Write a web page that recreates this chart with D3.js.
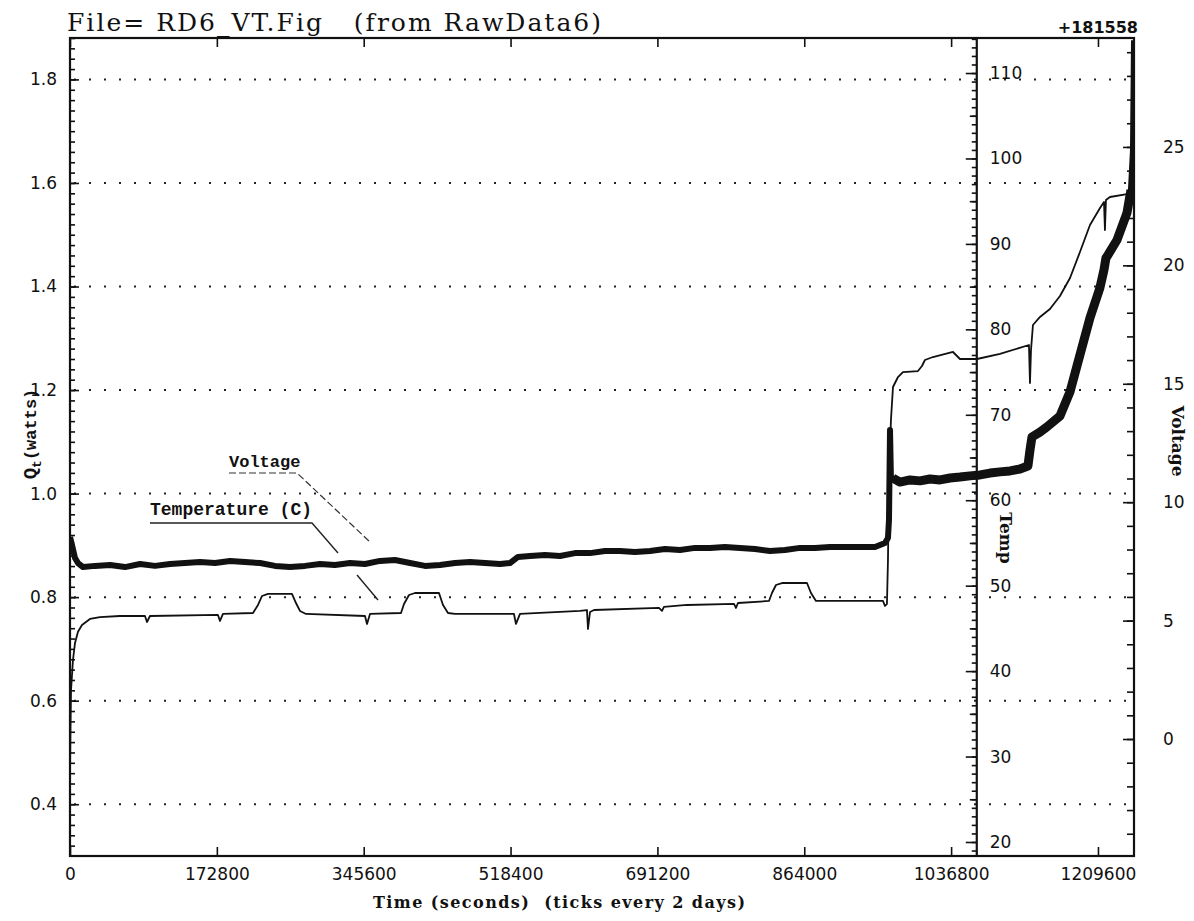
<!DOCTYPE html>
<html>
<head>
<meta charset="utf-8">
<script src="https://cdn.jsdelivr.net/npm/d3@7"></script>
<style>
  body { margin: 0; background: #fff; }
  svg text { fill: #111; }
</style>
</head>
<body>
<div id="chart"></div>
<script>
// Temperature (C) vs time (s)
const temperature = [
  [0, 27.8], [600, 33.5], [1200, 37.8], [3500, 41.3], [5900, 43.3], [9400, 44.6], [14100, 45.4],
  [23500, 46.1], [35300, 46.33], [58800, 46.45], [88200, 46.45], [90600, 45.75], [94100, 46.45],
  [174100, 46.57], [176500, 45.87], [180000, 46.69], [215300, 46.8], [221200, 47.74],
  [225900, 48.79], [233000, 49.03], [261200, 49.03], [265900, 47.97], [270600, 47.04],
  [277700, 46.69], [347100, 46.45], [349500, 45.52], [353000, 46.69], [389500, 46.8],
  [393000, 47.86], [398900, 48.91], [405900, 49.14], [434200, 49.14], [438900, 47.74],
  [444800, 46.8], [453000, 46.69], [522400, 46.69], [524800, 45.52], [529500, 46.69],
  [600100, 47.04], [608300, 47.15], [609500, 44.93], [611900, 46.92], [616600, 47.15],
  [693000, 47.39], [696600, 47.04], [698900, 47.51], [726000, 47.74], [781300, 47.86],
  [783600, 47.39], [786000, 47.97], [822500, 48.21], [826000, 49.14], [830700, 50.08],
  [837800, 50.31], [867200, 50.31], [871900, 49.14], [877800, 48.21], [956600, 48.21],
  [959000, 47.62], [961300, 47.86], [962500, 53.0], [963700, 62.37], [966000, 69.39],
  [968400, 73.25], [974300, 74.42], [980100, 75.0], [997800, 75.12], [1002500, 75.71],
  [1006000, 76.41], [1015400, 76.76], [1039000, 77.35], [1043700, 76.88], [1047200, 76.53],
  [1067200, 76.53], [1094300, 77.12], [1128400, 78.17], [1129600, 73.72], [1130800, 77.58],
  [1133100, 80.51], [1141400, 81.45], [1153100, 82.38], [1164900, 83.9], [1176700, 86.01],
  [1188400, 89.05], [1200200, 92.21], [1212000, 94.2], [1216700, 94.91], [1217800, 91.63],
  [1219000, 95.14], [1223700, 95.49], [1243700, 95.84], [1252000, 96.54]
];

// Voltage vs time (s), centre of the noisy band
const voltage = [
  [0, 8.53], [2400, 8.19], [5900, 7.64], [9400, 7.43], [15300, 7.26], [29400, 7.31],
  [47100, 7.35], [64700, 7.26], [82400, 7.39], [100000, 7.31], [117700, 7.39], [135300, 7.43],
  [153000, 7.47], [170600, 7.43], [188300, 7.52], [205900, 7.47], [223600, 7.43], [241200, 7.31],
  [258900, 7.26], [276500, 7.31], [294200, 7.39], [311800, 7.35], [329500, 7.43], [347100, 7.39],
  [364800, 7.52], [382400, 7.56], [400100, 7.43], [417700, 7.31], [435400, 7.35], [453000, 7.43],
  [470700, 7.47], [488300, 7.43], [506000, 7.39], [517700, 7.43], [527100, 7.69], [541300, 7.73],
  [558900, 7.77], [576600, 7.73], [594200, 7.85], [611900, 7.85], [629500, 7.94], [647200, 7.94],
  [664800, 7.9], [682500, 7.94], [700100, 8.02], [717800, 7.98], [735400, 8.07], [753100, 8.07],
  [770700, 8.11], [788400, 8.07], [806000, 8.02], [823700, 7.94], [841300, 7.98], [859000, 8.07],
  [876600, 8.07], [894300, 8.11], [911900, 8.11], [929600, 8.11], [947200, 8.11], [959000, 8.28],
  [962500, 8.49], [963700, 9.25], [964900, 13.05], [966000, 10.94], [968400, 11.02],
  [976600, 10.85], [988400, 10.94], [1000200, 10.9], [1011900, 10.98], [1023700, 10.94],
  [1035500, 11.02], [1047200, 11.06], [1059000, 11.11], [1070800, 11.15], [1082500, 11.23],
  [1094300, 11.28], [1106100, 11.32], [1117800, 11.4], [1127200, 11.53], [1129600, 12.2],
  [1131900, 12.75], [1141300, 12.96], [1149600, 13.18], [1164900, 13.64], [1176600, 14.65],
  [1188400, 16.22], [1200200, 17.78], [1211900, 19.05], [1216700, 19.81], [1219000, 20.31],
  [1221400, 20.44], [1232000, 21.07], [1243700, 22.21], [1248400, 23.18], [1250800, 24.87],
  [1252000, 29.5]
];

const qTicks = [0.4, 0.6, 0.8, 1.0, 1.2, 1.4, 1.6, 1.8];
const timeTicks = [0, 172800, 345600, 518400, 691200, 864000, 1036800, 1209600];
const tempTicks = [20, 30, 40, 50, 60, 70, 80, 90, 100, 110];
const voltTicks = [0, 5, 10, 15, 20, 25];

const TEMP_AXIS_T = 1067000;   // where the inner Temp axis sits
const L = 70, R = 1134, T = 38, B = 856;

const x = d3.scaleLinear().domain([0, 1252000]).range([L, R]);
const yQ = d3.scaleLinear().domain([0.30, 1.88]).range([B, T]);
const yT = d3.scaleLinear().domain([18.36, 114.1]).range([B, T]);
const yV = d3.scaleLinear().domain([-4.94, 29.6]).range([B, T]);

const svg = d3.select('#chart').append('svg')
  .attr('width', 1194).attr('height', 921);

svg.append('rect').attr('width', 1194).attr('height', 921).attr('fill', '#fff');

// dotted grid from the Q axis, across both panels
svg.append('g').selectAll('line')
  .data(qTicks)
  .enter().append('line')
  .attr('x1', L + 4).attr('x2', R - 2)
  .attr('y1', d => yQ(d)).attr('y2', d => yQ(d))
  .attr('stroke', '#222').attr('stroke-width', 2)
  .attr('stroke-dasharray', '2,13');

function styleAxis(g, size) {
  g.select('.domain').remove();
  g.selectAll('line').attr('stroke', '#111').attr('stroke-width', 1.6);
  g.selectAll('text')
    .attr('font-family', 'DejaVu Sans, sans-serif')
    .attr('font-size', size || 17)
    .attr('fill', '#111');
}

// left Q axis
svg.append('g').attr('transform', `translate(${L},0)`)
  .call(d3.axisLeft(yQ).tickValues(d3.range(0.32, 1.881, 0.02)).tickSizeInner(-5).tickSizeOuter(0).tickFormat(''))
  .call(styleAxis);
svg.append('g').attr('transform', `translate(${L},0)`)
  .call(d3.axisLeft(yQ).tickValues(qTicks).tickSizeInner(-9).tickSizeOuter(0)
    .tickPadding(13).tickFormat(d3.format('.1f')))
  .call(styleAxis);

// bottom and top time axes
svg.append('g').attr('transform', `translate(0,${B})`)
  .call(d3.axisBottom(x).tickValues(timeTicks).tickSizeInner(-9).tickSizeOuter(0)
    .tickPadding(12).tickFormat(d3.format('d')))
  .call(styleAxis);
svg.append('g').attr('transform', `translate(0,${T})`)
  .call(d3.axisTop(x).tickValues(timeTicks).tickSizeInner(-9).tickSizeOuter(0).tickFormat(''))
  .call(styleAxis);

// inner Temp axis
const tx = x(TEMP_AXIS_T);
svg.append('g').attr('transform', `translate(${tx},0)`)
  .call(d3.axisRight(yT).tickValues(d3.range(19, 115, 1)).tickSizeInner(-5).tickSizeOuter(0).tickFormat(''))
  .call(styleAxis);
svg.append('g').attr('transform', `translate(${tx},0)`)
  .call(d3.axisRight(yT).tickValues(d3.range(25, 115, 10)).tickSizeInner(-7).tickSizeOuter(0).tickFormat(''))
  .call(styleAxis);
svg.append('g').attr('transform', `translate(${tx},0)`)
  .call(d3.axisRight(yT).tickValues(tempTicks).tickSizeInner(-11).tickSizeOuter(0).tickPadding(13))
  .call(styleAxis);

// right Voltage axis
svg.append('g').attr('transform', `translate(${R},0)`)
  .call(d3.axisRight(yV).tickValues(d3.range(-4, 30, 1)).tickSizeInner(-7).tickSizeOuter(0).tickFormat(''))
  .call(styleAxis);
svg.append('g').attr('transform', `translate(${R},0)`)
  .call(d3.axisRight(yV).tickValues(voltTicks).tickSizeInner(-11).tickSizeOuter(0).tickPadding(29))
  .call(styleAxis);

// frame and inner axis line
svg.append('rect')
  .attr('x', L).attr('y', T).attr('width', R - L).attr('height', B - T)
  .attr('fill', 'none').attr('stroke', '#111').attr('stroke-width', 2.2);
svg.append('line')
  .attr('x1', tx).attr('x2', tx).attr('y1', T).attr('y2', B)
  .attr('stroke', '#111').attr('stroke-width', 2.2);

// curves
svg.append('clipPath').attr('id', 'plot-clip')
  .append('rect').attr('x', L).attr('y', T).attr('width', R - L).attr('height', B - T);
const plot = svg.append('g').attr('clip-path', 'url(#plot-clip)');

const voltLine = d3.line().x(d => x(d[0])).y(d => yV(d[1]));
const tempLine = d3.line().x(d => x(d[0])).y(d => yT(d[1]));

plot.append('path').datum(voltage)
  .attr('d', voltLine)
  .attr('fill', 'none').attr('stroke', '#111').attr('stroke-width', 6)
  .attr('stroke-linejoin', 'round');
// the band gets wider after the jump
plot.append('path').datum(voltage.filter(d => d[0] >= 968400 && d[0] <= 1248400))
  .attr('d', voltLine)
  .attr('fill', 'none').attr('stroke', '#111').attr('stroke-width', 9)
  .attr('stroke-linejoin', 'round');

plot.append('path').datum(temperature)
  .attr('d', tempLine)
  .attr('fill', 'none').attr('stroke', '#111').attr('stroke-width', 1.8)
  .attr('stroke-linejoin', 'round');

// annotations with leader lines
const ann = svg.append('g');
ann.append('text')
  .attr('x', 229).attr('y', 467)
  .attr('font-family', 'Liberation Mono, monospace').attr('font-weight', 'bold').attr('font-size', 17)
  .text('Voltage');
ann.append('polyline')
  .attr('points', '229,473 297,473 370,542')
  .attr('fill', 'none').attr('stroke', '#333').attr('stroke-width', 1.2)
  .attr('stroke-dasharray', '7,3');
ann.append('text')
  .attr('x', 150).attr('y', 515)
  .attr('font-family', 'Liberation Mono, monospace').attr('font-weight', 'bold').attr('font-size', 18)
  .text('Temperature (C)');
ann.append('polyline')
  .attr('points', '150,523 312,523 338,553')
  .attr('fill', 'none').attr('stroke', '#222').attr('stroke-width', 1.4);
ann.append('line')
  .attr('x1', 357).attr('y1', 575).attr('x2', 378).attr('y2', 600)
  .attr('stroke', '#222').attr('stroke-width', 1.4);

// titles
svg.append('text')
  .attr('x', 67).attr('y', 31)
  .attr('font-family', 'DejaVu Serif, serif').attr('font-size', 25)
  .attr('textLength', 534).attr('lengthAdjust', 'spacing')
  .text('File=\u00a0RD6_VT.Fig\u00a0\u00a0\u00a0(from RawData6)');

svg.append('text')
  .attr('x', 1138).attr('y', 33).attr('text-anchor', 'end')
  .attr('font-family', 'DejaVu Sans, sans-serif').attr('font-weight', 'bold').attr('font-size', 16)
  .text('+181558');

svg.append('text')
  .attr('x', 559).attr('y', 908).attr('text-anchor', 'middle')
  .attr('font-family', 'DejaVu Serif, serif').attr('font-weight', 'bold').attr('font-size', 16)
  .attr('textLength', 372).attr('lengthAdjust', 'spacing')
  .text('Time (seconds)\u00a0\u00a0(ticks every 2 days)');

const qLabel = svg.append('text')
  .attr('transform', 'translate(36,434) rotate(-90)')
  .attr('text-anchor', 'middle')
  .attr('font-family', 'Liberation Mono, monospace').attr('font-weight', 'bold').attr('font-size', 17);
qLabel.append('tspan').attr('font-size', 19).text('Q');
qLabel.append('tspan').attr('dy', 5).attr('font-size', 13).text('t');
qLabel.append('tspan').attr('dy', -5).text('(watts)');

svg.append('text')
  .attr('transform', 'translate(1000,538) rotate(90)')
  .attr('text-anchor', 'middle')
  .attr('font-family', 'DejaVu Serif, serif').attr('font-weight', 'bold').attr('font-size', 17)
  .text('Temp');

svg.append('text')
  .attr('transform', 'translate(1172,441) rotate(90)')
  .attr('text-anchor', 'middle')
  .attr('font-family', 'DejaVu Serif, serif').attr('font-weight', 'bold').attr('font-size', 17)
  .text('Voltage');
</script>
</body>
</html>
